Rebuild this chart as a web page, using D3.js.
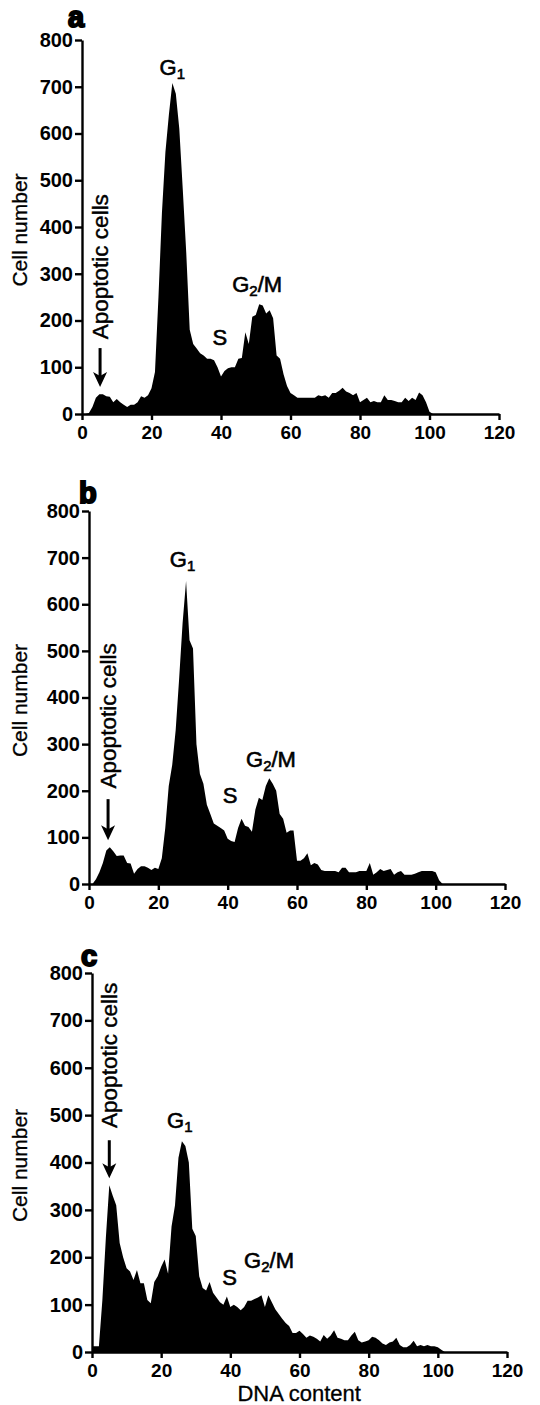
<!DOCTYPE html>
<html>
<head>
<meta charset="utf-8">
<script src="https://cdn.jsdelivr.net/npm/d3@7"></script>
<style>
  body { margin: 0; background: #fff; }
  svg { display: block; }
  text { font-family: "Liberation Sans", Arial, Helvetica, sans-serif; fill: #000; }
</style>
</head>
<body>
<div id="chart"></div>
<script>
// cell counts per DNA-content channel (channel 0, 1, 2, ...)
const countsA = [0,0,2,15,35,42,42,38,37,25,32,25,20,15,20,20,25,38,35,40,
  55,90,250,430,560,640,708,685,610,480,345,180,150,140,130,125,118,118,115,100,
  80,92,98,100,100,118,120,175,150,208,212,235,232,215,222,205,125,118,85,60,
  45,40,35,35,35,35,35,35,40,38,40,35,45,45,50,56,48,45,40,45,
  25,30,35,25,28,25,25,40,30,30,28,25,25,35,28,35,30,46,40,25,
  5,0,0];

const countsB = [0,0,10,25,45,72,79,70,60,61,61,45,44,22,32,38,38,35,30,35,
  32,55,120,210,255,330,440,560,650,523,505,300,236,215,170,150,130,125,120,115,
  97,92,90,120,140,125,122,112,160,185,180,210,227,215,200,150,140,110,115,115,
  50,50,55,66,40,45,42,30,28,28,28,28,25,35,35,25,25,25,28,28,
  28,45,20,25,32,28,30,32,20,25,28,20,20,20,22,25,28,28,28,28,
  25,8,0];

const countsC = [12,12,12,110,240,352,330,310,230,200,177,170,152,173,145,145,110,103,148,160,
  180,195,165,265,310,410,445,435,400,260,245,160,135,130,148,125,115,105,100,117,
  95,100,95,88,95,108,108,112,115,120,95,120,105,90,80,70,61,55,40,40,
  45,38,30,35,32,28,22,36,28,35,46,30,28,25,25,35,43,25,20,22,
  25,32,30,25,18,15,20,22,30,15,10,10,15,24,12,15,12,15,12,12,
  10,5,0];

const xTicks = [0, 20, 40, 60, 80, 100, 120];
const yTicks = [0, 100, 200, 300, 400, 500, 600, 700, 800];

// layout of the three stacked panels (pixels) and annotation anchors (data units)
const panels = [
  { letter: "a", counts: countsA, left: 82, right: 499, top: 40, bottom: 414,
    letterPos: [68, 27],
    g1: [26, 725], s: [39.7, 147], g2m: [50.4, 262],
    apo: { x: 5.2, text: 160, arrowTop: 141, arrowTip: 58 } },
  { letter: "b", counts: countsB, left: 89, right: 505, top: 511, bottom: 884,
    letterPos: [79, 503],
    g1: [27, 680], s: [40.7, 174], g2m: [52.5, 251],
    apo: { x: 5.5, text: 205, arrowTop: 182, arrowTip: 94 } },
  { letter: "c", counts: countsC, left: 92, right: 507, top: 973, bottom: 1352,
    letterPos: [81, 966],
    g1: [25.4, 473], s: [39.8, 141], g2m: [51.2, 177],
    apo: { x: 5.0, text: 473, arrowTop: 447, arrowTip: 367 } }
];

const svg = d3.select("#chart").append("svg")
  .attr("width", 540)
  .attr("height", 1405);

panels.forEach((p, pi) => {
  const x = d3.scaleLinear().domain([0, 120]).range([p.left, p.right]);
  const y = d3.scaleLinear().domain([0, 800]).range([p.bottom, p.top]);
  const g = svg.append("g");

  // histogram
  const area = d3.area()
    .x((d, i) => x(i))
    .y0(y(0))
    .y1(d => y(d))
    .curve(d3.curveLinear);
  g.append("path")
    .datum(p.counts)
    .attr("d", area)
    .attr("fill", "#000");

  // axes
  const yAxis = g.append("g")
    .attr("transform", `translate(${p.left},0)`)
    .call(d3.axisLeft(y).tickValues(yTicks).tickSize(7).tickSizeOuter(0).tickPadding(2));
  yAxis.selectAll("text")
    .style("font-size", "20px")
    .style("font-weight", "bold");

  const xAxis = g.append("g")
    .attr("transform", `translate(0,${p.bottom})`)
    .call(d3.axisBottom(x).tickValues(xTicks).tickSize(6).tickSizeOuter(0).tickPadding(6));
  xAxis.selectAll("text")
    .style("font-size", "19px")
    .style("font-weight", "bold");

  [yAxis, xAxis].forEach(ax => {
    ax.select(".domain").attr("stroke", "#000").attr("stroke-width", 2.4);
    ax.selectAll(".tick line").attr("stroke", "#000").attr("stroke-width", 2.4);
    ax.selectAll("text").attr("fill", "#000").style("font-family", '"Liberation Sans", Arial, sans-serif');
  });

  // panel letter
  g.append("text")
    .attr("x", p.letterPos[0])
    .attr("y", p.letterPos[1])
    .style("font-size", "29px")
    .style("font-weight", "bold")
    .attr("stroke", "#000")
    .attr("stroke-width", 2)
    .text(p.letter);

  // y axis title
  g.append("text")
    .attr("transform", `translate(27,${(p.top + p.bottom) / 2 + 3}) rotate(-90)`)
    .attr("text-anchor", "middle")
    .style("font-size", "21px")
    .attr("stroke", "#000")
    .attr("stroke-width", 0.3)
    .text("Cell number");

  // phase labels
  const lab = (pos, size) => g.append("text")
    .attr("x", x(pos[0]))
    .attr("y", y(pos[1]))
    .attr("text-anchor", "middle")
    .style("font-size", size)
    .attr("stroke", "#000")
    .attr("stroke-width", 0.6);

  const g1 = lab(p.g1, "22px");
  g1.append("tspan").text("G");
  g1.append("tspan").attr("dy", 4).style("font-size", "15px").text("1");

  lab(p.s, "22px").text("S");

  const g2 = lab(p.g2m, "22px");
  g2.append("tspan").text("G");
  g2.append("tspan").attr("dy", 4).style("font-size", "15px").text("2");
  g2.append("tspan").attr("dy", -4).text("/M");

  // apoptotic cells label and arrow
  g.append("text")
    .attr("transform", `translate(${x(p.apo.x)},${y(p.apo.text)}) rotate(-90)`)
    .attr("dy", "0.36em")
    .style("font-size", "22.5px")
    .attr("stroke", "#000")
    .attr("stroke-width", 0.4)
    .text("Apoptotic cells");

  const ax0 = x(p.apo.x), top = y(p.apo.arrowTop), tip = y(p.apo.arrowTip);
  g.append("line")
    .attr("x1", ax0).attr("x2", ax0)
    .attr("y1", top).attr("y2", tip - 8)
    .attr("stroke", "#000")
    .attr("stroke-width", 3);
  g.append("path")
    .attr("d", `M${ax0 - 7},${tip - 15} L${ax0},${tip - 11} L${ax0 + 7},${tip - 15} L${ax0},${tip} Z`)
    .attr("fill", "#000");

  if (pi === panels.length - 1) {
    g.append("text")
      .attr("x", x(59.9))
      .attr("y", 1401)
      .attr("text-anchor", "middle")
      .style("font-size", "22px")
      .attr("stroke", "#000")
      .attr("stroke-width", 0.3)
      .text("DNA content");
  }
});
</script>
</body>
</html>
